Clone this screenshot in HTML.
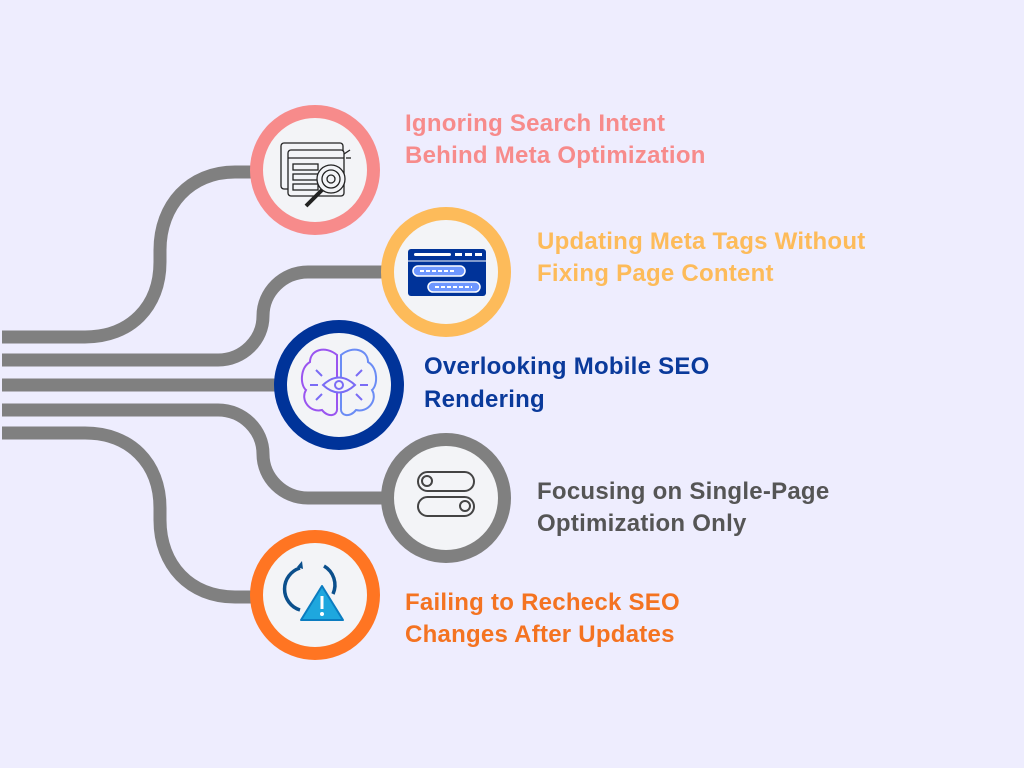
<!DOCTYPE html>
<html><head><meta charset="utf-8"><style>
html,body{margin:0;padding:0;background:#eeedfe;}
svg{display:block}
text{font-family:"Liberation Sans",Arial,sans-serif;font-weight:bold;font-size:24px;letter-spacing:0.25px;}
</style></head><body>
<svg width="1024" height="768" viewBox="0 0 1024 768" xmlns="http://www.w3.org/2000/svg">
<rect width="1024" height="768" fill="#eeedfe"/>
<g fill="none" stroke="#808080" stroke-width="13">
<path d="M2 337 H85 C130 337 160 307 160 262 V250 C160 205 190 172 235 172 H270"/>
<path d="M2 360 H218 C243 360 263 340 263 316 C263 292 283 272 308 272 H400"/>
<path d="M2 385 H290"/>
<path d="M2 410 H218 C243 410 263 430 263 454 C263 478 283 498 308 498 H400"/>
<path d="M2 433 H85 C130 433 160 463 160 508 V520 C160 565 190 597 235 597 H270"/>
</g>
<g stroke-width="13" fill="#f3f4f7">
<circle cx="315" cy="170" r="58.5" stroke="#f78b8b"/>
<circle cx="446" cy="272" r="58.5" stroke="#fdbb5a"/>
<circle cx="339" cy="385" r="58.5" stroke="#003399"/>
<circle cx="446" cy="498" r="58.5" stroke="#808080"/>
<circle cx="315" cy="595" r="58.5" stroke="#ff7522"/>
</g>
<!-- icon 1 -->
<g fill="none" stroke="#222" stroke-width="1.3">
<rect x="281" y="143" width="62" height="46" rx="3"/>
<rect x="288" y="150" width="56" height="46" rx="3" fill="#f3f4f7"/>
<line x1="288" y1="158" x2="344" y2="158"/>
<rect x="293" y="164" width="25" height="6"/><rect x="293" y="174" width="25" height="6"/><rect x="293" y="184" width="25" height="6"/>
<circle cx="331" cy="179" r="14" fill="#f3f4f7"/><circle cx="331" cy="179" r="9"/><circle cx="331" cy="179" r="4"/>
<line x1="322" y1="190" x2="306" y2="206" stroke-width="4"/>
<line x1="344" y1="154" x2="350" y2="150"/><line x1="346" y1="158" x2="351" y2="158"/>
</g>
<!-- icon 2 -->
<rect x="408" y="249" width="78" height="47" rx="3" fill="#003399"/>
<rect x="414" y="253" width="37" height="3" rx="1.5" fill="#fff"/>
<rect x="455" y="253" width="7" height="3" fill="#fff"/><rect x="465" y="253" width="7" height="3" fill="#fff"/><rect x="475" y="253" width="7" height="3" fill="#fff"/>
<line x1="408" y1="261" x2="486" y2="261" stroke="#fff" stroke-width="1"/>
<rect x="413" y="266" width="52" height="10" rx="5" fill="#6e97ff" stroke="#fff" stroke-width="1.5"/>
<rect x="428" y="282" width="52" height="10" rx="5" fill="#6e97ff" stroke="#fff" stroke-width="1.5"/>
<line x1="420" y1="271" x2="456" y2="271" stroke="#fff" stroke-width="2" stroke-dasharray="4 2"/>
<line x1="435" y1="287" x2="472" y2="287" stroke="#fff" stroke-width="2" stroke-dasharray="4 2"/>
<!-- icon 3 brain -->
<g fill="none" stroke="#8c5cf5" stroke-width="2">
<path d="M337 355 C325 345 310 350 310 362 C300 368 300 385 306 390 C300 400 310 413 322 410 C328 418 338 416 337 408 Z" stroke="#9a55f0"/>
<path d="M341 355 C353 345 368 350 368 362 C378 368 378 385 372 390 C378 400 368 413 356 410 C350 418 340 416 341 408 Z" stroke="#6b8cf5"/>
<path d="M323 385 Q339 370 355 385 Q339 400 323 385 Z" stroke="#7a6cf5" fill="#f3f4f7"/>
<circle cx="339" cy="385" r="4" stroke="#7a6cf5"/>
<path d="M318 385 H310 M360 385 H368 M322 376 L316 370 M356 376 L362 370 M322 394 L316 400 M356 394 L362 400" stroke="#7a6cf5"/>
</g>
<!-- icon 4 -->
<g fill="none" stroke="#444" stroke-width="2">
<rect x="418" y="472" width="56" height="19" rx="9.5"/><circle cx="427" cy="481" r="5"/>
<rect x="418" y="497" width="56" height="19" rx="9.5"/><circle cx="465" cy="506" r="5"/>
</g>
<!-- icon 5 -->
<g fill="none" stroke="#0b4f8c" stroke-width="3.5">
<path d="M300 568 A22 22 0 0 0 300 610"/>
<path d="M324 566 A22 22 0 0 1 333 594"/>
</g>
<path d="M297 567 L302 561 L303 569 Z" fill="#0b4f8c"/>
<path d="M322 586 L343 620 L301 620 Z" fill="#1ea7de" stroke="#0b7cc0" stroke-width="2" stroke-linejoin="round"/>
<rect x="320.5" y="596" width="3" height="13" fill="#fff"/><circle cx="322" cy="614" r="2" fill="#fff"/>
<!-- texts -->
<text x="405" y="131" fill="#f78b8b">Ignoring Search Intent</text>
<text x="405" y="163" fill="#f78b8b">Behind Meta Optimization</text>
<text x="537" y="249" fill="#fdbb5a">Updating Meta Tags Without</text>
<text x="537" y="281" fill="#fdbb5a">Fixing Page Content</text>
<text x="424" y="374" fill="#0a3a9b">Overlooking Mobile SEO</text>
<text x="424" y="407" fill="#0a3a9b">Rendering</text>
<text x="537" y="499" fill="#555555">Focusing on Single-Page</text>
<text x="537" y="531" fill="#555555">Optimization Only</text>
<text x="405" y="610" fill="#f47321">Failing to Recheck SEO</text>
<text x="405" y="642" fill="#f47321">Changes After Updates</text>
</svg>
</body></html>
